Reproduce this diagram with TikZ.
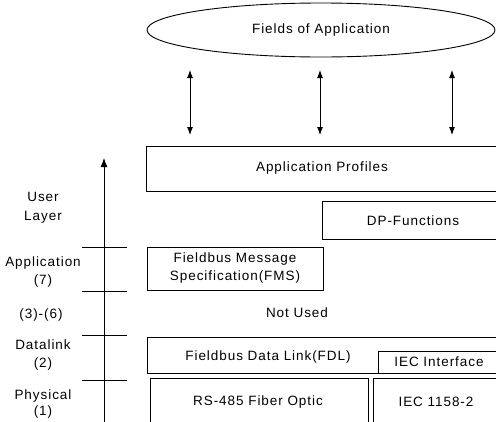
\documentclass[tikz,border=0pt]{standalone}
\usepackage{fontspec}
\setmainfont{Liberation Sans}[LetterSpace=7]
\usetikzlibrary{shapes.geometric,arrows.meta}
\begin{document}
\begin{tikzpicture}[x=1pt,y=-1pt,
  every node/.style={font=\fontsize{13.5}{16}\selectfont},
  box/.style={draw,line width=0.9pt,inner sep=0pt,anchor=north west},
  lbl/.style={align=center,inner sep=0pt},
  tick/.style={line width=0.9pt},
  dbl/.style={line width=0.9pt,{Latex[length=8pt,width=6pt]}-{Latex[length=8pt,width=6pt]}}]
\useasboundingbox (0,0) rectangle (496,421);
\clip (0,0) rectangle (496,421);
% top ellipse
\node[draw,ellipse,line width=0.9pt,minimum width=348pt,minimum height=54pt,inner sep=0pt] (foa) at (321,30) {Fields of Application};
% boxes
\node[box,minimum width=354pt,minimum height=45pt] (ap) at (146,146) {};
\node at (322,168) {Application Profiles};
\node[box,minimum width=178pt,minimum height=38pt] (dp) at (322,201) {};
\node at (413,221) {DP-Functions};
\node[box,minimum width=176pt,minimum height=43pt,align=center] (fms) at (147,247) {};
\node[lbl] at (235,268) {Fieldbus Message\\[2pt]Specification(FMS)};
\node (nu) at (297,313) {Not Used};
\node[box,minimum width=353pt,minimum height=36pt] (fdl) at (147,337) {};
\node at (268,357) {Fieldbus Data Link(FDL)};
\node[box,minimum width=122pt,minimum height=22pt] (iec) at (378,351) {};
\node at (439,362) {IEC Interface};
\node[box,minimum width=218pt,minimum height=60pt] (rs) at (150,378) {};
\node at (258,402) {RS-485 Fiber Optic};
\node[box,minimum width=127pt,minimum height=60pt] (ie2) at (373,378) {};
\node at (436,402) {IEC 1158-2};
% double arrows
\foreach \x/\n in {190/a,320/b,452/c}{
  \coordinate (t\n) at (\x,70);
  \coordinate (b\n) at (\x,135);
  \draw[dbl] (t\n) -- (b\n);
}
% left axis
\coordinate (axb) at (104,425);
\coordinate (axt) at (104,158);
\draw[line width=0.9pt,-{Latex[length=9pt,width=7pt]}] (axb) -- (axt);
\foreach \y/\n in {247/1,291/2,335/3,380/4}{
  \coordinate (l\n) at (82,\y);
  \coordinate (r\n) at (127,\y);
  \draw[tick] (l\n) -- (r\n);
}
% left labels
\node[lbl] (ul) at (43,208) {User\\[3pt]Layer};
\node[lbl] (al) at (43,272) {Application\\[2pt](7)};
\node[lbl] (ml) at (41,315) {(3)-(6)};
\node[lbl] (dl) at (43,355) {Datalink\\[2pt](2)};
\node[lbl] (pl) at (43,404) {Physical\\[1pt](1)};
\end{tikzpicture}
\end{document}
